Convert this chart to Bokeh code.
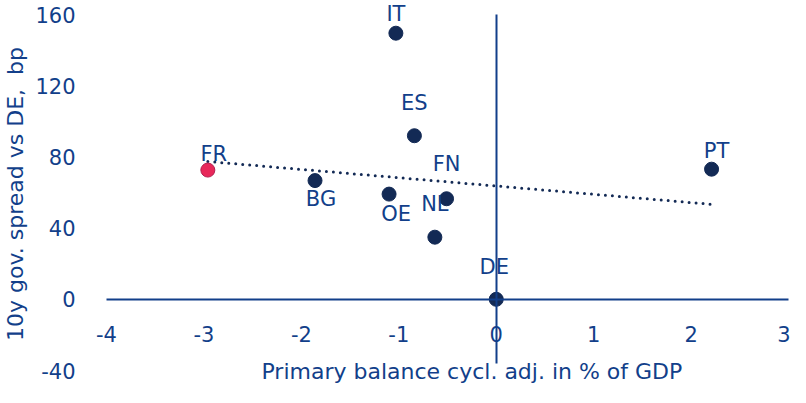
import numpy as np
from bokeh.plotting import figure
from bokeh.models import ColumnDataSource, LinearAxis, FixedTicker, Label, Range1d
from bokeh.core.properties import value
from bokeh.embed import file_html
from bokeh.resources import INLINE

# ---- data ----
countries = ["FR", "BG", "OE", "IT", "ES", "FN", "NL", "DE", "PT"]
primary_balance = [-2.96, -1.86, -1.10, -1.03, -0.84, -0.51, -0.63, 0.0, 2.21]
spread_bp = [72.6, 66.7, 59.1, 149.5, 91.9, 56.5, 34.9, 0.0, 73.1]
highlight = "FR"
y_ticks = [-40, 0, 40, 80, 120, 160]
x_ticks = [-4, -3, -2, -1, 0, 1, 2, 3]

# label offsets (screen px; y positive = down)
lab_dx = [6, 6, 7, 0, 0, 0, 0, -2, 5]
lab_dy = [-16, 18, 20, -19, -33, -35, -33, -32, -18]

BLUE = "#123f8a"
NAVY = "#132a55"
PINK = "#e8285a"
FONT = "DejaVu Sans"
FS = "21px"

colors = [PINK if c == highlight else NAVY for c in countries]
edges = ["#b32050" if c == highlight else NAVY for c in countries]
src = ColumnDataSource(dict(x=primary_balance, y=spread_bp, name=countries,
                            color=colors, edge=edges, dx=lab_dx, dy=lab_dy))

p = figure(width=790, height=387, output_backend="svg", toolbar_location=None,
           x_range=Range1d(-4.154, 3.02), y_range=Range1d(-49.55, 167.87),
           x_axis_location=None, y_axis_location=None,
           min_border_left=90, min_border_right=0, min_border_top=0, min_border_bottom=0)
p.outline_line_color = None
p.xgrid.visible = False
p.ygrid.visible = False
p.background_fill_color = "white"
p.border_fill_color = "white"

# y axis labels on the far left
yax = LinearAxis(ticker=FixedTicker(ticks=y_ticks), axis_label="10y gov. spread vs DE,\u00a0 bp")
yax.major_label_overrides = {t: str(t) for t in y_ticks}
yax.axis_line_color = None
yax.major_tick_line_color = None
yax.minor_tick_line_color = None
yax.major_label_standoff = 10
yax.major_label_text_font = FONT
yax.major_label_text_font_size = FS
yax.major_label_text_color = BLUE
yax.axis_label_text_font = FONT
yax.axis_label_text_font_size = "22px"
yax.axis_label_text_font_style = "normal"
yax.axis_label_text_color = BLUE
yax.axis_label_standoff = 4
p.add_layout(yax, "left")

# vertical axis line at x = 0
yline = LinearAxis(fixed_location=0, bounds=(-36, 160), ticker=FixedTicker(ticks=[]))
yline.axis_line_color = BLUE
yline.axis_line_width = 2
yline.major_tick_line_color = None
yline.minor_tick_line_color = None
yline.major_label_text_font_size = "0px"
p.add_layout(yline, "left")

# horizontal axis at y = 0
xax = LinearAxis(fixed_location=0, bounds=(-4, 3), ticker=FixedTicker(ticks=x_ticks))
xax.major_label_overrides = {t: str(t) for t in x_ticks}
xax.axis_line_color = BLUE
xax.axis_line_width = 2
xax.major_tick_line_color = None
xax.minor_tick_line_color = None
xax.major_label_standoff = 21
xax.major_label_text_font = FONT
xax.major_label_text_font_size = FS
xax.major_label_text_color = BLUE
p.add_layout(xax, "below")

# trend line (least squares)
coef = np.polyfit(primary_balance, spread_bp, 1)
tx = np.array([min(primary_balance), max(primary_balance)])
ty = np.polyval(coef, tx)
p.line(tx, ty, line_color=NAVY, line_width=3, line_dash="0 7", line_cap="round")

p.scatter("x", "y", source=src, size=14, fill_color="color", line_color="edge", line_width=1)

p.text("x", "y", text="name", source=src, x_offset="dx", y_offset="dy",
       text_align="center", text_baseline="middle", text_color=BLUE,
       text_font=value(FONT), text_font_size=FS)

p.add_layout(Label(x=-0.25, y=-40.8, text="Primary balance cycl. adj. in % of GDP",
                   text_align="center", text_baseline="middle", text_color=BLUE,
                   text_font=FONT, text_font_size="22px"))

open("out.html", "w").write(file_html(p, INLINE))
